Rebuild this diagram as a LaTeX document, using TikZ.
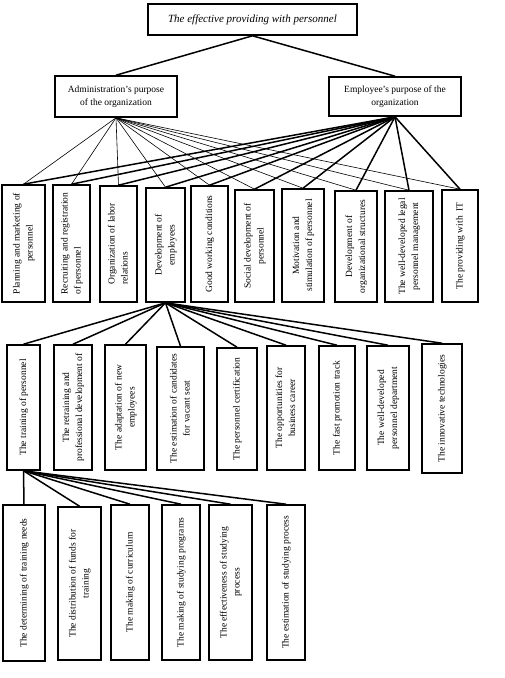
\documentclass[tikz,border=0pt]{standalone}
\usepackage{fontspec}
\usepackage{graphicx}
\setmainfont{Liberation Serif}
\newcommand{\vt}[1]{\rotatebox{90}{\begin{tabular}{@{}c@{}}#1\end{tabular}}}
\newcommand{\vtl}[1]{\rotatebox{90}{\begin{tabular}{@{}l@{}}#1\end{tabular}}}
\newcommand{\bx}[6]{\node[box,minimum width={(#3-#2)*1pt},minimum height={(#5-#4)*1pt}] (#1) at ({(#2+#3)/2},{(#4+#5)/2}) {#6};}
\tikzset{
  box/.style={draw, line width=1.6pt, fill=white, inner sep=0pt, align=center,
              font=\fontsize{9.5}{13}\selectfont},
  thinline/.style={line width=0.6pt},
  thickline/.style={line width=1.5pt},
}
\begin{document}
\begin{tikzpicture}[x=1pt,y=-1pt]
\useasboundingbox (0,0) rectangle (504,678);
% top level
\bx{top}{148}{357}{4}{35}{\fontsize{11}{13}\selectfont\itshape The effective providing with personnel}
\bx{adm}{55}{177}{76}{117}{Administration’s purpose\\of the organization}
\bx{emp}{329}{461}{77}{116}{Employee’s purpose of the\\organization}
% row 1
\bx{ra1}{2}{45}{185}{302}{\vt{Planning and marketing of\\personnel}}
\bx{ra2}{53}{90}{185}{302}{\vtl{Recruiting and registration\\of personnel}}
\bx{ra3}{100}{137}{186}{302}{\vtl{Organization of labor\\relations}}
\bx{ra4}{146}{185}{188}{302}{\vt{Development of\\employees}}
\bx{ra5}{191}{228}{186}{302}{\vt{Good working conditions}}
\bx{ra6}{235}{274}{190}{302}{\vt{Social development of\\personnel}}
\bx{ra7}{282}{324}{189}{302}{\vt{Motivation and\\stimulation of personnel}}
\bx{ra8}{335}{377}{191}{302}{\vt{Development of\\organizational structures}}
\bx{ra9}{385}{433}{191}{302}{\vt{The well-developed legal\\personnel management}}
\bx{ra10}{442}{478}{190}{302}{\vt{The providing with\ \ IT}}
% row 2
\bx{rb1}{7}{40}{345}{470}{\vt{The training of personnel}}
\bx{rb2}{54}{92}{345}{470}{\vt{The retraining and\\professional development of}}
\bx{rb3}{105}{146}{345}{470}{\vt{The adaptation of new\\employees}}
\bx{rb4}{157}{204}{347}{470}{\vt{The estimation of candidates\\for vacant seat}}
\bx{rb5}{217}{257}{348}{470}{\vt{The personnel certification}}
\bx{rb6}{267}{305}{346}{470}{\vt{The opportunities for\\business career}}
\bx{rb7}{319}{355}{346}{470}{\vt{The fast promotion track}}
\bx{rb8}{367}{409}{346}{470}{\vt{The well-developed\\personnel department}}
\bx{rb9}{422}{462}{344}{473}{\vt{The innovative technologies}}
% row 3
\bx{rc1}{3}{45}{505}{661}{\vt{The determining of training needs}}
\bx{rc2}{58}{101}{507}{660}{\vt{The distribution of funds for\\training}}
\bx{rc3}{111}{149}{505}{660}{\vt{The making of curriculum}}
\bx{rc4}{162}{200}{505}{660}{\vt{The making of studying programs}}
\bx{rc5}{209}{252}{505}{660}{\vt{The effectiveness of studying\\process}}
\bx{rc6}{267}{305}{505}{660}{\vt{The estimation of studying process}}
% connectors
\draw[thickline] (top.south) -- (adm.north);
\draw[thickline] (top.south) -- (emp.north);
\foreach \i in {1,...,10}{
  \draw[thinline] (adm.south) -- (ra\i.north);
  \draw[thickline] (emp.south) -- (ra\i.north);
}
\foreach \i in {1,...,9}{
  \draw[thickline] (ra4.south) -- (rb\i.north);
}
\foreach \i in {1,...,6}{
  \draw[thickline] (rb1.south) -- (rc\i.north);
}
\end{tikzpicture}
\end{document}
